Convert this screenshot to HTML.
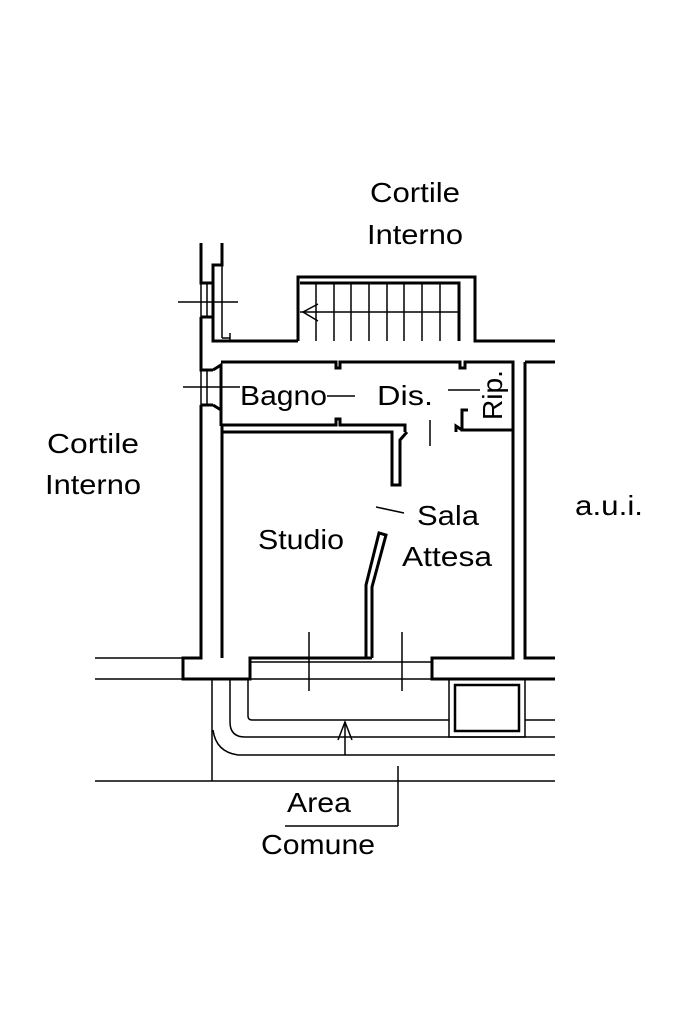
<!DOCTYPE html>
<html><head><meta charset="utf-8"><style>
html,body{margin:0;padding:0;background:#fff}
svg{display:block}
text{font-family:"Liberation Sans",sans-serif;font-size:28px;fill:#000}
</style></head><body>
<svg width="683" height="1024" viewBox="0 0 683 1024" xmlns="http://www.w3.org/2000/svg">
<g fill="none" stroke="#000" stroke-width="3">
<polyline points="201,243 201,283 213,283"/>
<polyline points="201,317 213,317"/>
<polyline points="201,317 201,370 213,370"/>
<polyline points="201,405 213,405"/>
<polyline points="201,405 201,658 183,658 183,679 250,679 250,658 372,658"/>
<polyline points="222,243 222,265 213,265 213,341 298,341"/>
<polyline points="222,426 222,658"/>
<polyline points="298,341 298,277 475,277 475,341 555,341"/>
<polyline points="300,283 459,283 459,341"/>
<polyline points="213,370 221,365 221,426"/>
<polyline points="213,405 221,410"/>
<polyline points="221,362 336,362 336,368 340,368 340,362 460,362 460,368 465,368 465,362 513,362 513,430 462,430 462,410 468,410"/>
<polyline points="221,425 336,425 336,419 340,419 340,425 405,425 405,432"/>
<polyline points="222,432 392,432 392,485 400,485 400,440 407,432"/>
<polyline points="456,432 456,426 462,430"/>
<polyline points="525,362 555,362"/>
<polyline points="525,362 525,658 555,658"/>
<polyline points="513,430 513,658 432,658 432,679 555,679"/>
<polyline points="366,658 366,585 379,533 386,535 372,587 372,658"/>
</g>
<g fill="none" stroke="#000" stroke-width="1.5">
<line x1="201" y1="283" x2="201" y2="317"/><line x1="207" y1="283" x2="207" y2="317"/>
<line x1="201" y1="370" x2="201" y2="405"/><line x1="207" y1="370" x2="207" y2="405"/>
<line x1="178" y1="302" x2="238" y2="302"/>
<line x1="183" y1="387" x2="240" y2="387"/>
<line x1="222" y1="265" x2="222" y2="338"/><line x1="222" y1="338" x2="230" y2="338"/><line x1="230" y1="333" x2="230" y2="341"/>
<line x1="300" y1="312" x2="459" y2="312"/>
<line x1="316" y1="283" x2="316" y2="341"/><line x1="334" y1="283" x2="334" y2="341"/><line x1="351" y1="283" x2="351" y2="341"/><line x1="369" y1="283" x2="369" y2="341"/><line x1="387" y1="283" x2="387" y2="341"/><line x1="404" y1="283" x2="404" y2="341"/><line x1="422" y1="283" x2="422" y2="341"/><line x1="440" y1="283" x2="440" y2="341"/>
<polyline points="318,304 303,312 318,321"/>
<line x1="327" y1="396" x2="355" y2="396"/>
<line x1="448" y1="390" x2="480" y2="390"/>
<line x1="430" y1="420" x2="430" y2="446"/>
<line x1="376" y1="507" x2="404" y2="513"/>
<line x1="95" y1="658" x2="183" y2="658"/>
<line x1="95" y1="679" x2="183" y2="679"/>
<line x1="250" y1="679" x2="432" y2="679"/>
<line x1="250" y1="662" x2="432" y2="662"/>
<line x1="309" y1="632" x2="309" y2="691"/>
<line x1="402" y1="632" x2="402" y2="691"/>
<rect x="449" y="679" width="76" height="58"/>
<rect x="455" y="685" width="64" height="46" stroke-width="2.5"/>
<path d="M248,679 V716 Q248,720 252,720 H449"/>
<line x1="525" y1="720" x2="555" y2="720"/>
<path d="M230,679 V722 Q230,737 245,737 H555"/>
<line x1="212" y1="679" x2="212" y2="781"/>
<path d="M213,730 Q216,752 238,755 H555"/>
<line x1="345" y1="755" x2="345" y2="722"/>
<polyline points="338,740 345,722 352,740"/>
<line x1="95" y1="781" x2="555" y2="781"/>
<line x1="398" y1="766" x2="398" y2="826"/>
<line x1="285" y1="826" x2="398" y2="826"/>
</g>
<g lengthAdjust="spacingAndGlyphs">
<text x="370" y="202" textLength="90" lengthAdjust="spacingAndGlyphs">Cortile</text>
<text x="367" y="244" textLength="96" lengthAdjust="spacingAndGlyphs">Interno</text>
<text x="47" y="453" textLength="92" lengthAdjust="spacingAndGlyphs">Cortile</text>
<text x="45" y="494" textLength="96" lengthAdjust="spacingAndGlyphs">Interno</text>
<text x="575" y="515" textLength="68" lengthAdjust="spacingAndGlyphs">a.u.i.</text>
<text x="240" y="405" textLength="87" lengthAdjust="spacingAndGlyphs">Bagno</text>
<text x="377" y="405" textLength="56" lengthAdjust="spacingAndGlyphs">Dis.</text>
<text transform="translate(502,420) rotate(-90)" textLength="50" lengthAdjust="spacingAndGlyphs">Rip.</text>
<text x="258" y="549" textLength="86" lengthAdjust="spacingAndGlyphs">Studio</text>
<text x="417" y="525" textLength="62" lengthAdjust="spacingAndGlyphs">Sala</text>
<text x="402" y="566" textLength="90" lengthAdjust="spacingAndGlyphs">Attesa</text>
<text x="287" y="812" textLength="64" lengthAdjust="spacingAndGlyphs">Area</text>
<text x="261" y="854" textLength="114" lengthAdjust="spacingAndGlyphs">Comune</text>
</g>
</svg>
</body></html>
